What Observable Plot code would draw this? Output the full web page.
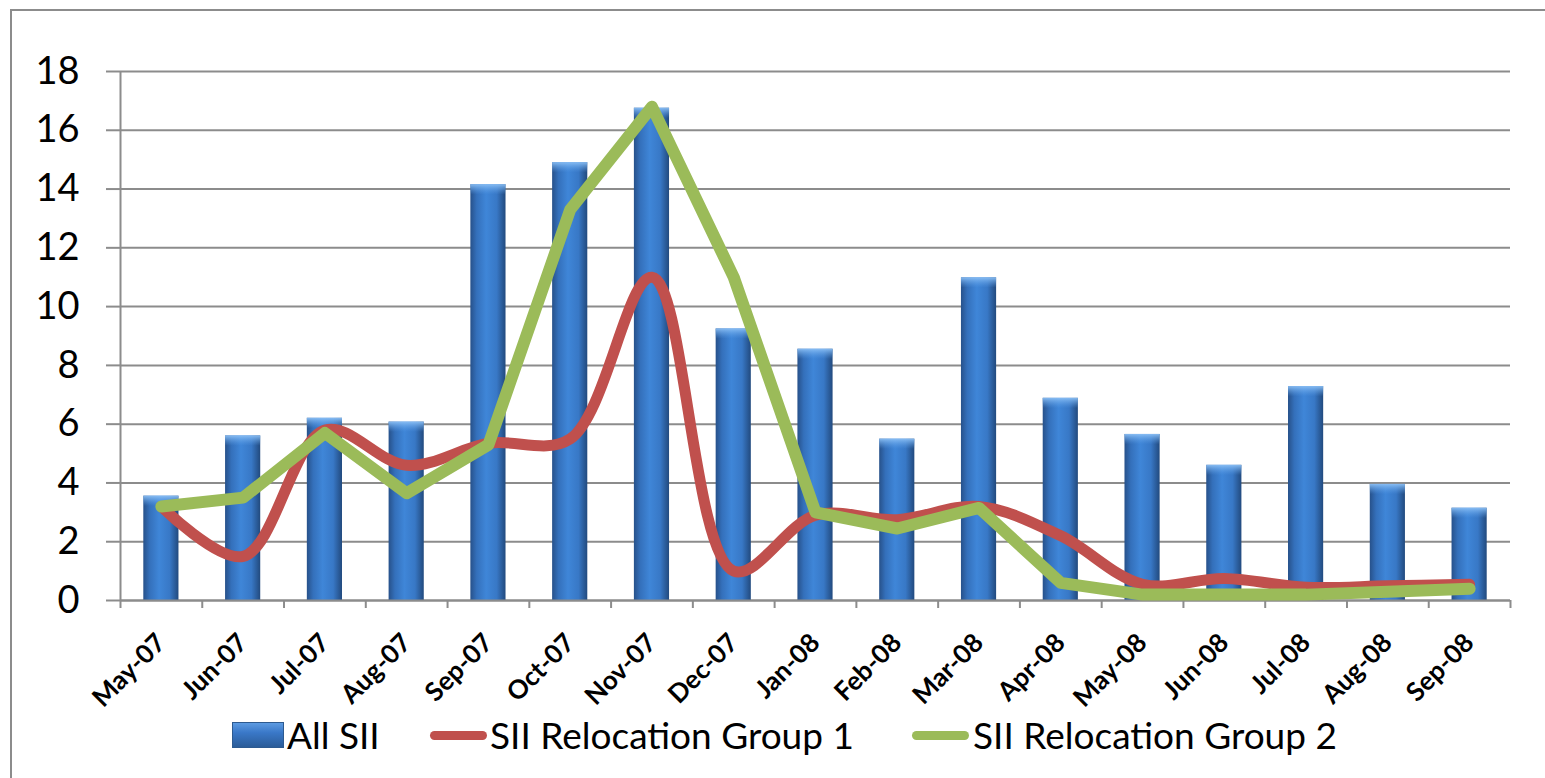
<!DOCTYPE html>
<html>
<head>
<meta charset="utf-8">
<script src="https://cdn.jsdelivr.net/npm/d3@7"></script>
<script src="https://cdn.jsdelivr.net/npm/@observablehq/plot@0.6"></script>
<style>
  html, body { margin: 0; padding: 0; background: #fff; }
  #wrap { position: relative; width: 1545px; height: 778px; overflow: hidden; font-family: Lato, "Open Sans", sans-serif; }
  #frame { position: absolute; left: 10px; top: 9px; width: 1600px; height: 800px; border-left: 2px solid #8c8c8c; border-top: 2px solid #8c8c8c; }
  #chart { position: absolute; left: 0; top: 0; }
  .leg { position: absolute; font-size: 37px; color: #000; line-height: 1; white-space: nowrap; }
  .sw { position: absolute; }
</style>
</head>
<body>
<div id="wrap">
  <div id="frame"></div>
  <div id="chart"></div>
  <div id="legend"></div>
</div>
<script>
const months = ["May-07","Jun-07","Jul-07","Aug-07","Sep-07","Oct-07","Nov-07","Dec-07","Jan-08","Feb-08","Mar-08","Apr-08","May-08","Jun-08","Jul-08","Aug-08","Sep-08"];
const allSII = [3.55, 5.6, 6.2, 6.07, 14.15, 14.9, 16.75, 9.24, 8.55, 5.49, 10.98, 6.88, 5.65, 4.6, 7.28, 3.95, 3.14];
const group1 = [3.2, 1.5, 5.8, 4.6, 5.35, 5.5, 11.0, 1.0, 2.9, 2.75, 3.2, 2.2, 0.55, 0.75, 0.45, 0.5, 0.55];
const group2 = [3.2, 3.5, 5.7, 3.65, 5.3, 13.3, 16.8, 11.0, 3.0, 2.45, 3.15, 0.6, 0.2, 0.2, 0.2, 0.3, 0.4];
const yTicks = [0, 2, 4, 6, 8, 10, 12, 14, 16, 18];
const seriesNames = ["All SII", "SII Relocation Group 1", "SII Relocation Group 2"];
const seriesColors = ["#3a78c8", "#c0504d", "#9bbb59"];

const data = months.map((m, i) => ({i, month: m, all: allSII[i], g1: group1[i], g2: group2[i]}));
const bounds = d3.range(months.length + 1);
const centers = months.map((m, i) => i + 0.5);
const gray = "#8c8c8c";

const plot = Plot.plot({
  width: 1545,
  height: 712,
  marginLeft: 120,
  marginRight: 35,
  marginTop: 71,
  marginBottom: 112,
  style: {fontFamily: "Lato, 'Open Sans', sans-serif", background: "transparent", overflow: "visible"},
  x: {type: "linear", domain: [0, months.length]},
  y: {domain: [0, 18]},
  marks: [
    Plot.gridY(yTicks, {stroke: gray, strokeOpacity: 1, strokeWidth: 2}),
    Plot.axisY(yTicks, {tickSize: 14, tickPadding: 27, fontSize: 38, stroke: gray, strokeWidth: 2, color: "#000", label: null}),
    Plot.rectY(data, {x1: d => d.i + 0.285, x2: d => d.i + 0.715, y: "all", fill: "url(#barGrad)"}),
    Plot.rectY(data, {x1: d => d.i + 0.285, x2: d => d.i + 0.715, y1: d => d.all - 0.35, y2: "all", fill: "url(#capGrad)"}),
    Plot.ruleX([0], {stroke: gray, strokeWidth: 2}),
    Plot.ruleY([0], {stroke: gray, strokeWidth: 2}),
    Plot.axisX(bounds, {tickSize: 8, tickFormat: () => "", stroke: gray, strokeWidth: 2, label: null}),
    Plot.axisX(centers, {tickSize: 0, tickPadding: 38, tickRotate: -45, tickFormat: v => months[Math.floor(v)], fontSize: 26, fontWeight: "bold", color: "#000", label: null}),
    Plot.line(data, {x: d => d.i + 0.5, y: "g1", stroke: seriesColors[1], strokeWidth: 11, curve: "catmull-rom", strokeLinecap: "round", strokeLinejoin: "round"}),
    Plot.line(data, {x: d => d.i + 0.5, y: "g2", stroke: seriesColors[2], strokeWidth: 12, strokeLinecap: "round", strokeLinejoin: "round"})
  ]
});

const ns = "http://www.w3.org/2000/svg";
const defs = document.createElementNS(ns, "defs");
defs.innerHTML = `
<linearGradient id="barGrad" x1="0" x2="1" y1="0" y2="0">
  <stop offset="0" stop-color="#27518a"/>
  <stop offset="0.18" stop-color="#3470bb"/>
  <stop offset="0.45" stop-color="#3f86d8"/>
  <stop offset="0.75" stop-color="#3878c6"/>
  <stop offset="1" stop-color="#224a7e"/>
</linearGradient>
<linearGradient id="capGrad" x1="0" x2="0" y1="0" y2="1">
  <stop offset="0" stop-color="#8cc0f5" stop-opacity="0.95"/>
  <stop offset="1" stop-color="#5b9de6" stop-opacity="0"/>
</linearGradient>`;
plot.insertBefore(defs, plot.firstChild);
document.getElementById("chart").appendChild(plot);

// Legend
const legend = document.getElementById("legend");
const items = [
  {sw: {left: 232, top: 722, width: 50, height: 24, background: "linear-gradient(#5d9be2, #3a78c8 40%, #2b5c98)", border: "1px solid #2d5a90"}, textLeft: 287},
  {sw: {left: 430, top: 731, width: 57, height: 9, background: seriesColors[1], borderRadius: "5px"}, textLeft: 490},
  {sw: {left: 912, top: 731, width: 57, height: 9, background: seriesColors[2], borderRadius: "5px"}, textLeft: 973}
];
items.forEach((it, k) => {
  const s = document.createElement("div");
  s.className = "sw";
  Object.entries(it.sw).forEach(([key, v]) => s.style[key] = typeof v === "number" ? v + "px" : v);
  legend.appendChild(s);
  const t = document.createElement("div");
  t.className = "leg";
  t.textContent = seriesNames[k];
  t.style.left = it.textLeft + "px";
  t.style.top = "716px";
  legend.appendChild(t);
});
</script>
</body>
</html>
